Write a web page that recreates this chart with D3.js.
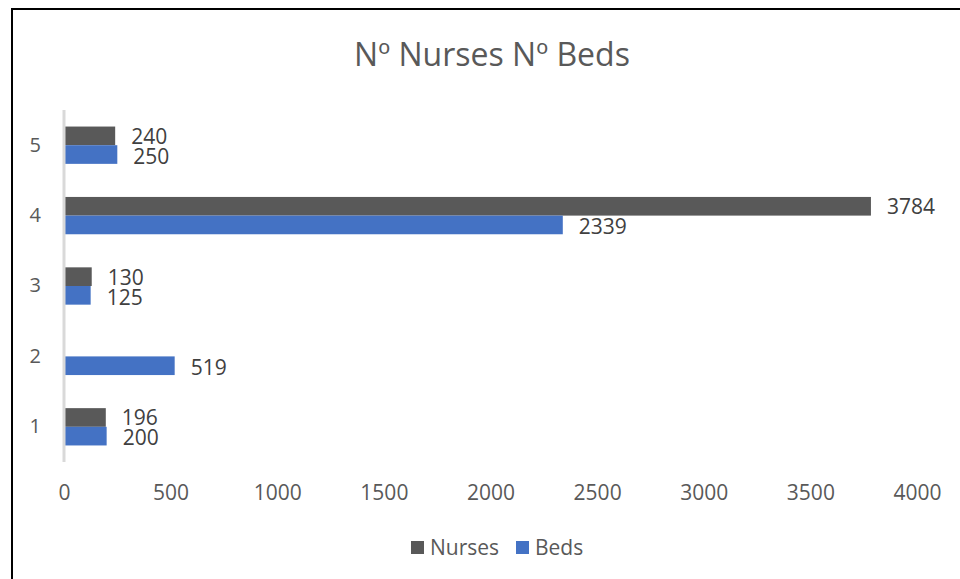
<!DOCTYPE html>
<html><head><meta charset="utf-8">
<script src="https://cdn.jsdelivr.net/npm/d3@7"></script>
<style>body{margin:0;background:#fff;}svg{display:block;font-family:"Open Sans",sans-serif;}</style>
</head><body><svg id="c" width="960" height="579"></svg>
<script>
const categories = ["1","2","3","4","5"];
const nurses = [196, null, 130, 3784, 240];
const beds = [200, 519, 125, 2339, 250];
const xTicks = [0,500,1000,1500,2000,2500,3000,3500,4000];
const seriesNames = ["Nurses","Beds"];
const colors = ["#595959","#4472C4"];
const title = "Nº Nurses Nº Beds";

const svg = d3.select("#c");
svg.append("rect").attr("x",12).attr("y",9).attr("width",1000).attr("height",700)
  .attr("fill","#fff").attr("stroke","#000").attr("stroke-width",2);

svg.append("text").attr("x",492).attr("y",66).attr("text-anchor","middle")
  .attr("font-size",32).attr("fill","#595959").text(title);

const x = d3.scaleLinear().domain([0,4000]).range([64,917]);
const y = d3.scaleBand().domain(categories.slice().reverse()).range([110,462]).paddingInner(0.47).paddingOuter(0.235);
const sub = d3.scaleBand().domain(seriesNames).range([0,y.bandwidth()]);

const data = [nurses, beds];
data.forEach((vals,si)=>{
  const g = svg.append("g");
  categories.forEach((c,i)=>{
    const v = vals[i];
    if(v==null) return;
    const yy = y(c)+sub(seriesNames[si]);
    g.append("rect").attr("x",x(0)).attr("y",yy).attr("width",x(v)-x(0)).attr("height",sub.bandwidth())
      .attr("fill",colors[si]);
    g.append("text").attr("x",x(v)+16).attr("y",yy+sub.bandwidth()/2+(si===0?0.5:2)).attr("dy","0.35em")
      .attr("font-size",21).attr("fill","#404040").text(v);
  });
});

// y axis line
svg.append("line").attr("x1",64).attr("x2",64).attr("y1",110).attr("y2",462)
  .attr("stroke","#d9d9d9").attr("stroke-width",3);

const ya = svg.append("g").attr("transform","translate(64,0)").call(d3.axisLeft(y).tickSize(0).tickPadding(23));
ya.select(".domain").remove();
ya.selectAll("text").attr("font-size",20).attr("fill","#595959").attr("font-family","Open Sans");

const xa = svg.append("g").attr("transform","translate(0,485)").call(d3.axisBottom(x).tickValues(xTicks).tickSize(0).tickPadding(0).tickFormat(d=>d));
xa.select(".domain").remove();
xa.selectAll("text").attr("font-size",21).attr("fill","#595959").attr("font-family","Open Sans");

// legend
const lg = svg.append("g").attr("transform","translate(0,548)");
const legendX = [411, 516];
seriesNames.forEach((n,i)=>{
  lg.append("rect").attr("x",legendX[i]).attr("y",-7).attr("width",13).attr("height",13).attr("fill",colors[i]);
  lg.append("text").attr("x",legendX[i]+19).attr("y",0).attr("dy","0.35em").attr("font-size",21).attr("fill","#595959").text(n);
});
</script></body></html>
